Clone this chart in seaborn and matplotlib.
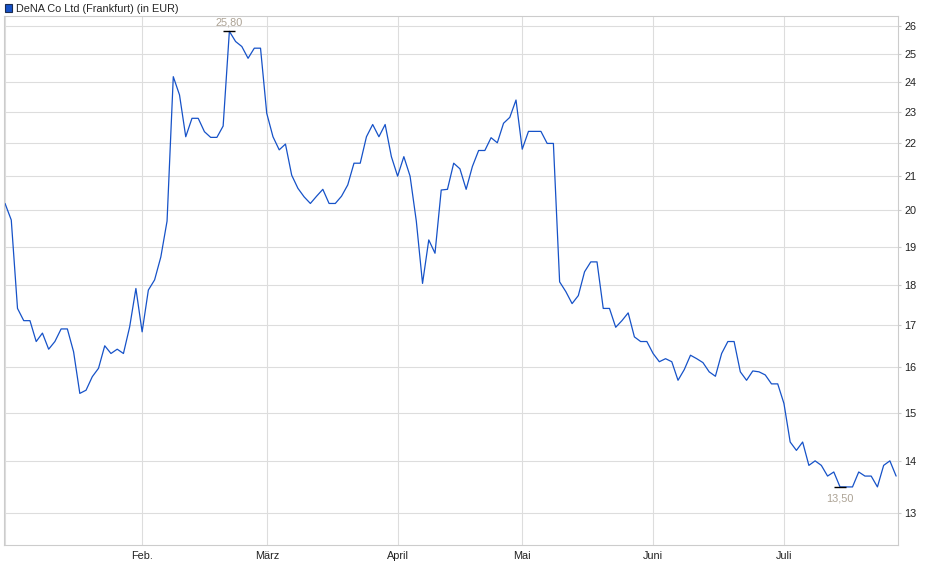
import pandas as pd
import matplotlib
matplotlib.use("Agg")
import matplotlib.pyplot as plt
from matplotlib.patches import Patch
from matplotlib.ticker import FixedLocator, NullLocator
import seaborn as sns

# -------------------------
# Data (closing prices in EUR)
# -------------------------
months = ["Jan", "Feb.", "März", "April", "Mai", "Juni", "Juli"]

jan = [20.2, 19.73, 17.4, 17.1, 17.1, 16.6, 16.8, 16.42, 16.6, 16.9, 16.9,
       16.36, 15.42, 15.49, 15.79, 15.98, 16.5, 16.32, 16.42, 16.32, 16.95, 17.9]
feb = [16.83, 17.86, 18.12, 18.72, 19.7, 24.19, 23.57, 22.21, 22.8, 22.8,
       22.37, 22.19, 22.19, 22.55, 25.8, 25.43, 25.25, 24.83, 25.19, 25.19]
mar = [22.96, 22.21, 21.8, 21.98, 21.03, 20.64, 20.39, 20.2, 20.41, 20.61,
       20.2, 20.2, 20.41, 20.74, 21.39, 21.39, 22.21, 22.6, 22.21, 22.6, 21.59]
apr = [21.0, 21.59, 21.0, 19.7, 18.03, 19.18, 18.82, 20.59, 20.61, 21.39,
       21.22, 20.61, 21.29, 21.78, 21.78, 22.18, 22.02, 22.64, 22.83, 23.4]
may = [21.82, 22.38, 22.38, 22.38, 22.0, 22.0, 18.07, 17.82, 17.52, 17.72,
       18.33, 18.59, 18.59, 17.4, 17.4, 16.94, 17.1, 17.29, 16.71, 16.6, 16.6]
jun = [16.32, 16.13, 16.2, 16.13, 15.71, 15.95, 16.28, 16.2, 16.11, 15.9,
       15.8, 16.32, 16.6, 16.6, 15.9, 15.71, 15.92, 15.9, 15.83, 15.63, 15.63]
jul = [15.2, 14.39, 14.22, 14.39, 13.92, 14.01, 13.92, 13.71, 13.79, 13.5,
       13.5, 13.5, 13.79, 13.71, 13.71, 13.5, 13.92, 14.01, 13.71]

y_ticks = list(range(13, 27))

series = [jan, feb, mar, apr, may, jun, jul]
rows = []
for m, vals in zip(months, series):
    for v in vals:
        rows.append({"month": m, "price": v})
df = pd.DataFrame(rows)
df["day"] = range(len(df))

# first trading day of each month -> vertical grid / tick
month_start = df.groupby("month", sort=False)["day"].min()

# -------------------------
# Plot
# -------------------------
sns.set_style("white")
plt.rcParams["font.family"] = ["Liberation Sans", "DejaVu Sans"]

line_color = "#1652c8"
grid_color = "#dddddd"
fs = 7.8

fig = plt.figure(figsize=(9.4, 5.79), dpi=100)
ax = fig.add_axes([0.0043, 0.0587, 0.9510, 0.9137])

sns.lineplot(data=df, x="day", y="price", color=line_color, linewidth=0.9, ax=ax)

ax.set_yscale("log")
ax.set_ylim(12.43, 26.37)
ax.set_xlim(-0.16, len(df) - 1 + 0.3)

ax.yaxis.set_major_locator(FixedLocator(y_ticks))
ax.yaxis.set_minor_locator(NullLocator())
ax.set_yticklabels([str(t) for t in y_ticks])
ax.yaxis.tick_right()

ax.set_xticks(list(month_start.values))
ax.set_xticklabels([""] + months[1:])

ax.grid(True, color=grid_color, linewidth=0.8)
ax.set_axisbelow(True)
for s in ax.spines.values():
    s.set_color("#cccccc")
    s.set_linewidth(0.8)

ax.tick_params(axis="both", labelsize=fs, colors="#cccccc", labelcolor="#222222",
               length=2, width=0.8, pad=2.5)
ax.set_xlabel("")
ax.set_ylabel("")

# max / min markers
i_max = df["price"].idxmax()
i_min = df["price"].idxmin()
for i, dy, va in [(i_max, 3, "bottom"), (i_min, -5, "top")]:
    x, y = df.loc[i, "day"], df.loc[i, "price"]
    ax.plot([x], [y], marker="_", markersize=8, markeredgewidth=1.0, color="black")
    ax.annotate(f"{y:.2f}".replace(".", ","), (x, y), xytext=(0, dy),
                textcoords="offset points", ha="center", va=va,
                fontsize=fs, color="#aca294")

# legend
handle = Patch(facecolor=line_color, edgecolor="#1c2c50", linewidth=0.8,
               label="DeNA Co Ltd (Frankfurt) (in EUR)")
fig.legend(handles=[handle], loc="upper left", bbox_to_anchor=(-0.002, 1.005),
           frameon=False, fontsize=fs, handlelength=0.7, handleheight=0.7,
           handletextpad=0.35, borderaxespad=0.2)

fig.savefig("out.png", dpi=100)
